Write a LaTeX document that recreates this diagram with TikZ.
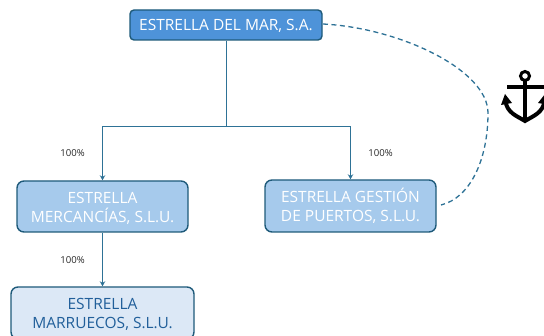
\documentclass[tikz,border=0pt]{standalone}
\usepackage{fontspec}
\setmainfont{Open Sans}
\usetikzlibrary{arrows.meta}
\definecolor{linec}{HTML}{2E7296}
\definecolor{edgec}{HTML}{1E5A7A}
\definecolor{topf}{HTML}{4E93D9}
\definecolor{midf}{HTML}{A6CAEC}
\definecolor{lowf}{HTML}{DCE8F6}
\definecolor{lowt}{HTML}{215F9A}
\newcommand\dnstrut[1]{\rule{0pt}{#1pt}}
\tikzset{
  x=1pt,y=-1pt,
  orgbox/.style={draw=edgec,line width=1.4pt,rounded corners=7pt,inner sep=0pt,align=center,font=\fontsize{15.5}{19.5}\selectfont},
  topbox/.style={orgbox,fill=topf,text=white,rounded corners=4pt},
  midbox/.style={orgbox,fill=midf,text=white},
  lowbox/.style={orgbox,fill=lowf,text=lowt},
  conn/.style={draw=linec,line width=1.2pt},
  arr/.style={conn,-{Stealth[length=5pt,width=5.5pt]}},
  dashconn/.style={draw=linec,line width=1.3pt,dash pattern=on 5pt off 3.5pt},
  pct/.style={font=\fontsize{9.6}{11}\selectfont,text=black!85,inner sep=0pt},
}
\begin{document}
\begin{tikzpicture}
\useasboundingbox (0,0) rectangle (544,336);
\clip (0,0) rectangle (544,336);
\node[topbox,minimum width=192pt,minimum height=30pt] (top) at (226,25) {\dnstrut{14}ESTRELLA DEL MAR, S.A.};
\node[midbox,minimum width=171pt,minimum height=51pt] (merc) at (102.5,206.5) {\dnstrut{15}ESTRELLA\\MERCANCÍAS, S.L.U.};
\node[midbox,minimum width=171pt,minimum height=52pt] (gest) at (350.5,206) {ESTRELLA GESTIÓN\\DE PUERTOS, S.L.U.};
\node[lowbox,minimum width=183pt,minimum height=52pt] (marr) at (102.5,313) {\dnstrut{14}ESTRELLA\\MARRUECOS, S.L.U.};
\coordinate (junc) at (226.5,126.5);
\coordinate (dstart) at (323,24);
\coordinate (dmid) at (488,113);
\coordinate (dend) at (441,205);
\draw[conn] (top.south -| junc) -- (junc);
\draw[arr] (junc) -| (merc.north);
\draw[arr] (junc) -| (gest.north);
\draw[arr] (merc.south) -- (marr.north);
\draw[dashconn] (dstart) .. controls (400,28) and (488,70) .. (dmid) .. controls (488,160) and (470,198) .. (dend);
\node[pct] (p1) at (72.5,153) {100\%};
\node[pct] (p2) at (380.5,153) {100\%};
\node[pct] (p3) at (72.5,260) {100\%};
% anchor
\draw[line width=3pt] (525,76) circle (4.5pt);
\draw[line width=4pt] (525,81) -- (525,121);
\draw[line width=3.5pt] (507,87) -- (544,87);
\draw[line width=4pt] (505.5,101) .. controls (507,113) and (517,116) .. (525,121) .. controls (533,116) and (543,113) .. (544.5,101);
\fill (501,105) -- (505,94) -- (512,103) -- cycle;
\fill (549,105) -- (545,94) -- (538,103) -- cycle;
\end{tikzpicture}
\end{document}
